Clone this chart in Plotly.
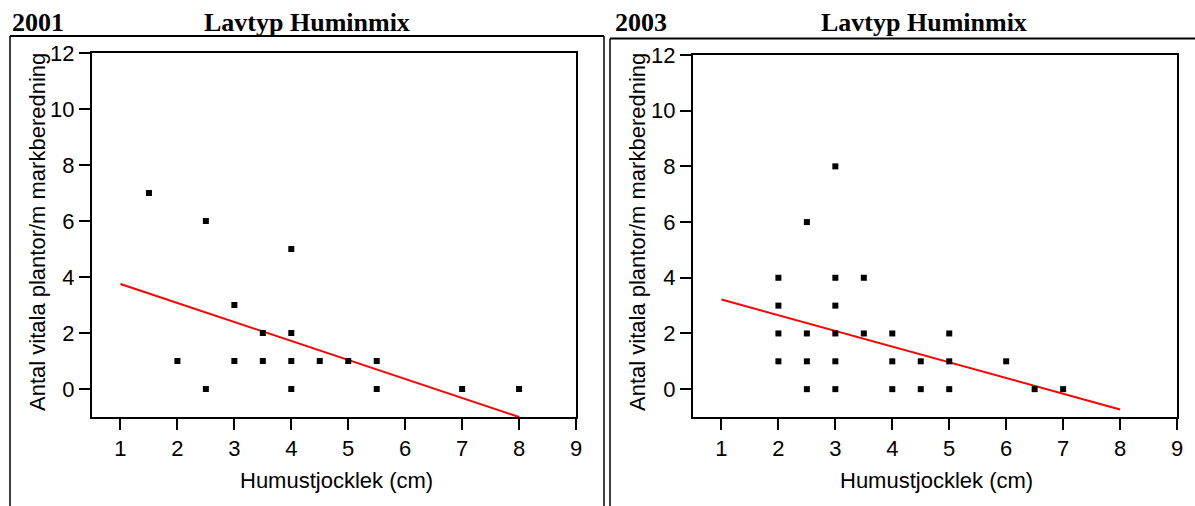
import plotly.graph_objects as go

# Seedling counts vs humus thickness, 2001 and 2003 inventories
x_2001 = [1.5, 2.5, 4, 3, 3.5, 4, 2, 3, 3.5, 4, 4.5, 5, 5.5, 2.5, 4, 5.5, 7, 8]
y_2001 = [7, 6, 5, 3, 2, 2, 1, 1, 1, 1, 1, 1, 1, 0, 0, 0, 0, 0]
trend_x_2001 = [1, 8]
trend_y_2001 = [3.75, -1.0]

x_2003 = [2, 2, 2, 2, 2.5, 2.5, 2.5, 2.5, 3, 3, 3, 3, 3, 3, 3.5, 3.5,
          4, 4, 4, 4.5, 4.5, 5, 5, 5, 6, 6.5, 7]
y_2003 = [4, 3, 2, 1, 6, 2, 1, 0, 8, 4, 3, 2, 1, 0, 4, 2,
          2, 1, 0, 1, 0, 2, 1, 0, 1, 0, 0]
trend_x_2003 = [1, 8]
trend_y_2003 = [3.22, -0.73]

x_ticks = [1, 2, 3, 4, 5, 6, 7, 8, 9]
y_ticks = [0, 2, 4, 6, 8, 10, 12]

years = ["2001", "2003"]
panel_title = "Lavtyp Huminmix"
x_title = "Humustjocklek (cm)"
y_title = "Antal vitala plantor/m markberedning"

W, H = 1195, 506


def px(x):
    return x / W


def py(y):
    return 1 - y / H


sans = "Liberation Sans, Arial, sans-serif"
serif = "Liberation Serif, Times New Roman, serif"

fig = go.Figure()

panels = [
    (x_2001, y_2001, trend_x_2001, trend_y_2001, "x", "y"),
    (x_2003, y_2003, trend_x_2003, trend_y_2003, "x2", "y2"),
]
for xs, ys, tx, ty, xa, ya in panels:
    fig.add_trace(go.Scatter(
        x=tx, y=ty, mode="lines", xaxis=xa, yaxis=ya,
        line=dict(color="#ff0000", width=2), cliponaxis=False,
        showlegend=False, hoverinfo="skip"))
    fig.add_trace(go.Scatter(
        x=xs, y=ys, mode="markers", xaxis=xa, yaxis=ya,
        marker=dict(symbol="square", size=6, color="black", line=dict(width=0)),
        cliponaxis=False, showlegend=False))

axis_style = dict(
    showline=True, linecolor="black", linewidth=2, mirror=True,
    ticks="outside", ticklen=11, tickwidth=1.5, tickcolor="black",
    showgrid=False, zeroline=False, fixedrange=True, automargin=False,
    tickfont=dict(family=sans, size=22, color="black"),
)

fig.update_layout(
    template="none",
    width=W, height=H,
    margin=dict(l=0, r=0, t=0, b=0, pad=0, autoexpand=False),
    paper_bgcolor="white", plot_bgcolor="white",
    xaxis=dict(domain=[px(92), px(576)], range=[0.5, 9], tickvals=x_ticks,
               anchor="y", **axis_style),
    yaxis=dict(domain=[py(417), py(53)], range=[-1, 12], tickvals=y_ticks,
               anchor="x", **axis_style),
    xaxis2=dict(domain=[px(693), px(1177)], range=[0.5, 9], tickvals=x_ticks,
                anchor="y2", **axis_style),
    yaxis2=dict(domain=[py(417), py(55)], range=[-1, 12], tickvals=y_ticks,
                anchor="x2", **axis_style),
)

# Panel frames
frame = dict(type="line", xref="paper", yref="paper",
             line=dict(color="black", width=2), layer="below")
thin = dict(color="black", width=1.5)
shapes = [
    dict(frame, x0=px(10), x1=px(604), y0=py(36), y1=py(36)),
    dict(frame, x0=px(10), x1=px(10), y0=py(36), y1=py(520), line=thin),
    dict(frame, x0=px(604), x1=px(604), y0=py(36), y1=py(520), line=thin),
    dict(frame, x0=px(610), x1=px(1200), y0=py(38.5), y1=py(38.5)),
    dict(frame, x0=px(610), x1=px(610), y0=py(38.5), y1=py(520), line=thin),
]
fig.update_layout(shapes=shapes)

ann = []
title_font = dict(family=serif, size=26, color="black")
label_font = dict(family=sans, size=22, color="black")
for year, yx, tcx, ycx, xcx in [(years[0], 10, 307, 37, 336), (years[1], 613, 924, 637, 936)]:
    ann.append(dict(text="<b>%s</b>" % year, x=px(yx), y=py(23), xref="paper", yref="paper",
                    xanchor="left", yanchor="middle", showarrow=False, font=title_font))
    ann.append(dict(text="<b>%s</b>" % panel_title, x=px(tcx), y=py(23), xref="paper", yref="paper",
                    xanchor="center", yanchor="middle", showarrow=False, font=title_font))
    ann.append(dict(text=y_title, x=px(ycx), y=py(232), xref="paper", yref="paper",
                    xanchor="center", yanchor="middle", textangle=-90, showarrow=False,
                    font=label_font))
    ann.append(dict(text=x_title, x=px(xcx), y=py(480), xref="paper", yref="paper",
                    xanchor="center", yanchor="middle", showarrow=False, font=label_font))
fig.update_layout(annotations=ann)

fig.write_html("out.html")
